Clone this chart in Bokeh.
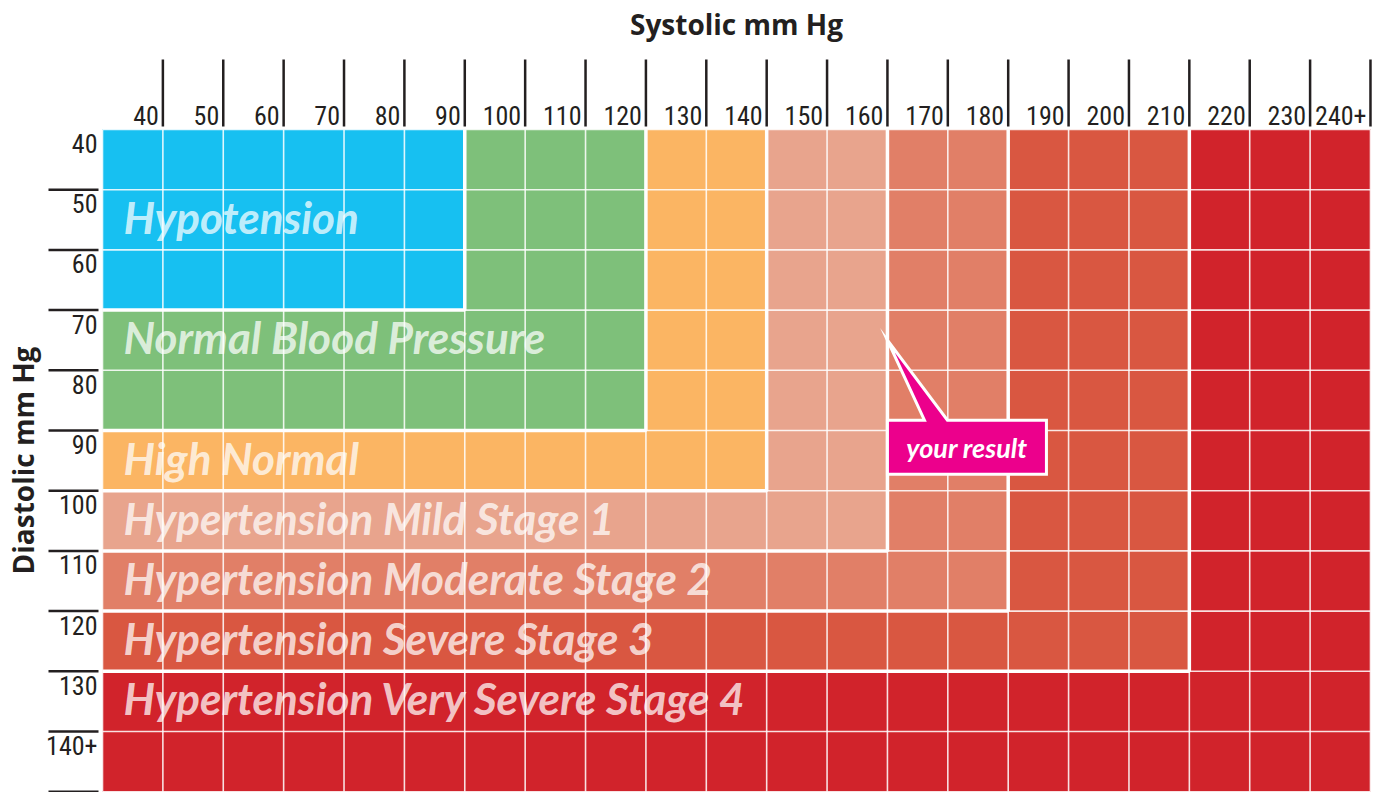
import numpy as np
from bokeh.plotting import figure
from bokeh.models import Range1d
from bokeh.core.properties import value
from bokeh.embed import file_html
from bokeh.resources import INLINE

# ---------------- data ----------------
systolic_values = [40, 50, 60, 70, 80, 90, 100, 110, 120, 130, 140, 150, 160,
                   170, 180, 190, 200, 210, 220, 230, 240]
systolic_labels = ["40", "50", "60", "70", "80", "90", "100", "110", "120", "130",
                   "140", "150", "160", "170", "180", "190", "200", "210", "220",
                   "230", "240+"]
diastolic_values = [40, 50, 60, 70, 80, 90, 100, 110, 120, 130, 140]
diastolic_labels = ["40", "50", "60", "70", "80", "90", "100", "110", "120",
                    "130", "140+"]

zone_names = ["Hypotension", "Normal Blood Pressure", "High Normal",
              "Hypertension Mild Stage 1", "Hypertension Moderate Stage 2",
              "Hypertension Severe Stage 3", "Hypertension Very Severe Stage 4"]
zone_systolic_max = [90, 120, 140, 160, 180, 210, 240]
zone_diastolic_max = [60, 80, 90, 100, 110, 120, 140]
zone_colors = ["#17C0F1", "#7EC07A", "#FBB563", "#E8A48D", "#E17F67",
               "#D95741", "#D1232B"]

result_systolic = 160
result_diastolic = 75
result_text = "your result"

# ---------------- layout constants ----------------
W, H = 1382, 792
CW = 60.38          # px per systolic column
RH = 60.2           # px per diastolic row
GX0, GY0 = 102.0, 129.0   # grid origin in plot pixels
ink = "#231F20"
tick_font = value("Roboto Condensed")

ncol, nrow = len(systolic_values), len(diastolic_values)

def px_x(px):
    return (px - GX0) / CW

def px_y(py):
    return (py - GY0) / RH

p = figure(width=W, height=H, output_backend="svg", toolbar_location=None,
           x_range=Range1d(px_x(0), px_x(W)),
           y_range=Range1d(px_y(H), px_y(0)),
           x_axis_location=None, y_axis_location=None, min_border=0)
p.grid.visible = False
p.outline_line_color = None
p.background_fill_color = "white"
p.border_fill_color = "white"

# ---------------- cells ----------------
cx, cy, cc = [], [], []
for j, d in enumerate(diastolic_values):
    for i, s in enumerate(systolic_values):
        for k in range(len(zone_names)):
            if s <= zone_systolic_max[k] and d <= zone_diastolic_max[k]:
                cx.append(i + 0.5)
                cy.append(j + 0.5)
                cc.append(zone_colors[k])
                break
p.rect(x=cx, y=cy, width=1, height=1, fill_color=cc, line_color=cc, line_width=0.5)

# ---------------- zone labels ----------------
label_y = []
for k in range(len(zone_names)):
    if k == 0:
        label_y.append(sum(1 for d in diastolic_values if d <= zone_diastolic_max[0]) / 2)
    else:
        label_y.append(sum(1 for d in diastolic_values if d <= zone_diastolic_max[k - 1]) + 0.5)
p.text(x=[px_x(GX0 + 21)] * len(zone_names), y=label_y, text=zone_names,
       y_offset=-3,
       text_font=value("Lato"), text_font_style="bold italic",
       text_font_size="44px", text_color="white", text_alpha=0.74,
       text_baseline="middle", text_align="left")

# ---------------- cell grid lines (over the labels) ----------------
vx = list(range(ncol + 1))
p.segment(x0=vx, y0=[0] * len(vx), x1=vx, y1=[nrow] * len(vx),
          line_color="white", line_width=1.6, line_alpha=0.85)
hy = list(range(nrow + 1))
p.segment(x0=[0] * len(hy), y0=hy, x1=[ncol] * len(hy), y1=hy,
          line_color="white", line_width=1.6, line_alpha=0.85)

# ---------------- zone borders ----------------
bxs, bys = [], []
for k in range(len(zone_names) - 1):
    c = sum(1 for s in systolic_values if s <= zone_systolic_max[k])
    r = sum(1 for d in diastolic_values if d <= zone_diastolic_max[k])
    bxs.append([0, c, c])
    bys.append([r, r, 0])
p.multi_line(xs=bxs, ys=bys, line_color="white", line_width=3.5)

# ---------------- top (systolic) ticks & labels ----------------
tick_x = [i + 1 for i in range(ncol)]
p.segment(x0=tick_x, y0=[px_y(GY0 - 70)] * ncol, x1=tick_x, y1=[px_y(GY0 - 3)] * ncol,
          line_color=ink, line_width=2.5)
p.text(x=tick_x, y=[0] * ncol, text=systolic_labels, x_offset=-4, y_offset=-14,
       text_font=tick_font,
       text_font_size="26px", text_color=ink, text_align="right",
       text_baseline="middle")

# ---------------- left (diastolic) ticks & labels ----------------
row_tick_y = [j for j in range(1, nrow + 1)]
p.segment(x0=[px_x(GX0 - 54)] * nrow, y0=row_tick_y, x1=[px_x(GX0 - 4)] * nrow,
          y1=row_tick_y, line_color=ink, line_width=2.5)
p.text(x=[0] * nrow, y=list(range(nrow)), text=diastolic_labels, x_offset=-5, y_offset=14,
       text_font=tick_font,
       text_font_size="26px", text_color=ink, text_align="right",
       text_baseline="middle")

# ---------------- axis titles ----------------
p.text(x=[px_x(736)], y=[px_y(23)], text=["Systolic mm Hg"],
       text_font=value("Open Sans"), text_font_style="bold", text_font_size="28px",
       text_color=ink, text_align="center", text_baseline="middle")
p.text(x=[px_x(22)], y=[px_y(460)], text=["Diastolic mm Hg"], angle=np.pi / 2,
       text_font=value("Open Sans"), text_font_style="bold", text_font_size="28px",
       text_color=ink, text_align="center", text_baseline="middle")

# ---------------- callout ----------------
tx = float(np.interp(result_systolic, systolic_values, np.arange(ncol) + 1))
ty = float(np.interp(result_diastolic, diastolic_values, np.arange(nrow)))
dx = lambda v: v / CW
dy = lambda v: v / RH
box_top, box_bot = ty + dy(80), ty + dy(134)
box_l, box_r = tx, tx + dx(159)
poly_x = [tx, tx + dx(60), box_r, box_r, box_l, box_l, tx + dx(37), tx]
poly_y = [ty, box_top, box_top, box_bot, box_bot, box_top, box_top, ty]
p.patch(x=poly_x, y=poly_y, fill_color="#EC008C", line_color="white",
        line_width=3, line_join="miter")
p.text(x=[(box_l + box_r) / 2], y=[(box_top + box_bot) / 2], text=[result_text],
       text_font=value("Lato"), text_font_style="bold italic", text_font_size="27px",
       text_color="white", text_align="center", text_baseline="middle")

open("out.html", "w").write(file_html(p, INLINE))
